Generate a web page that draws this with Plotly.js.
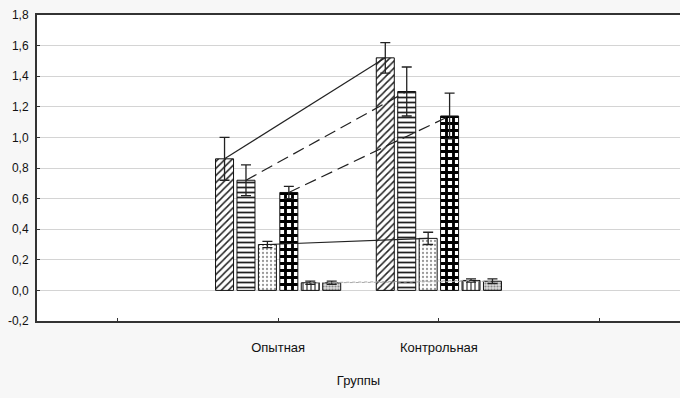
<!DOCTYPE html>
<html>
<head>
<meta charset="utf-8">
<script src="https://cdn.plot.ly/plotly-3.0.1.min.js"></script>
<style>html,body{margin:0;padding:0;background:#f7f7f7;}#chart{width:680px;height:398px;}</style>
</head>
<body>
<div id="chart"></div>
<script>
// categories (numeric positions 0 and 1 on the x axis)
const groups = ['Опытная', 'Контрольная'];
const groupPos = [0, 1];
const xTickVals = [-1, 0, 1, 2];
const xTickText = ['', 'Опытная', 'Контрольная', ''];
const yTickVals = [-0.2, 0, 0.2, 0.4, 0.6, 0.8, 1.0, 1.2, 1.4, 1.6, 1.8];
const yTickText = ['-0,2', '0,0', '0,2', '0,4', '0,6', '0,8', '1,0', '1,2', '1,4', '1,6', '1,8'];

// series means per group [Опытная, Контрольная]
const s1 = [0.86, 1.52];
const s2 = [0.72, 1.30];
const s3 = [0.30, 0.34];
const s4 = [0.64, 1.14];
const s5 = [0.05, 0.065];
const s6 = [0.05, 0.06];

// error values per group
const e1 = [0.14, 0.10];
const e2 = [0.10, 0.16];
const e3 = [0.02, 0.04];
const e4 = [0.04, 0.15];
const e5 = [0.01, 0.01];
const e6 = [0.01, 0.015];

const values = [s1, s2, s3, s4, s5, s6];
const errors = [e1, e2, e3, e4, e5, e6];

const patterns = [
  {shape: '/', fgcolor: '#222', bgcolor: '#fff', size: 5, solidity: 0.3},
  {shape: '-', fgcolor: '#222', bgcolor: '#fff', size: 5, solidity: 0.35},
  {shape: '.', fgcolor: '#999', bgcolor: '#fff', size: 4, solidity: 0.25},
  {shape: '+', fgcolor: '#000', bgcolor: '#fff', size: 7, solidity: 0.65},
  {shape: '|', fgcolor: '#333', bgcolor: '#fff', size: 4, solidity: 0.3},
  {shape: '.', fgcolor: '#888', bgcolor: '#ddd', size: 3, solidity: 0.4}
];
const lineStyles = [
  {dash: 'solid', color: '#222', width: 1.2},
  {dash: '12px,6px', color: '#222', width: 1.2},
  {dash: 'solid', color: '#222', width: 1.2},
  {dash: '12px,6px', color: '#222', width: 1.2},
  {dash: 'dot', color: '#aaa', width: 1},
  {dash: 'dot', color: '#aaa', width: 1}
];

const bargap = 0.2, nS = values.length;
const slot = (1 - bargap) / nS;

const traces = [];
values.forEach((v, i) => {
  traces.push({
    type: 'bar', x: groupPos, y: v,
    marker: {color: '#fff', line: {color: '#111', width: 1}, pattern: patterns[i]},
    error_y: {type: 'data', array: errors[i], visible: true, color: '#222', thickness: 1.3, width: 5},
    showlegend: false, hoverinfo: 'y'
  });
});
values.forEach((v, i) => {
  const off = -(1 - bargap) / 2 + (i + 0.5) * slot;
  traces.push({
    type: 'scatter', mode: 'lines',
    x: groupPos.map(p => p + off), y: v,
    line: lineStyles[i], showlegend: false, hoverinfo: 'skip'
  });
});

const fontFam = '"Liberation Sans Narrow", "Liberation Sans", Arial, sans-serif';
const layout = {
  width: 680, height: 398,
  margin: {l: 37, r: 0, t: 15, b: 77},
  paper_bgcolor: '#f7f7f7', plot_bgcolor: '#fff',
  barmode: 'group', bargap: bargap, bargroupgap: 0.16,
  font: {family: fontFam, size: 12, color: '#111'},
  xaxis: {
    range: [-1.5, 2.5], tickvals: xTickVals, ticktext: xTickText,
    tickfont: {family: fontFam, size: 13, color: '#111'},
    showgrid: false, zeroline: false,
    showline: true, mirror: true, linecolor: '#333', linewidth: 2,
    ticks: 'inside', ticklen: 3, tickcolor: '#333',
    ticklabelstandoff: 13,
    title: {text: 'Группы', font: {family: fontFam, size: 13, color: '#111'}, standoff: 22}
  },
  yaxis: {
    range: [-0.2, 1.8], tickvals: yTickVals, ticktext: yTickText,
    tickfont: {family: fontFam, size: 12, color: '#111'},
    showgrid: true, gridcolor: '#d4d4d4', gridwidth: 1, zeroline: false,
    showline: true, mirror: true, linecolor: '#333', linewidth: 2,
    ticks: 'inside', ticklen: 3, tickcolor: '#333', ticklabelstandoff: 4
  }
};
Plotly.newPlot('chart', traces, layout, {displayModeBar: false, staticPlot: true});
</script>
</body>
</html>
